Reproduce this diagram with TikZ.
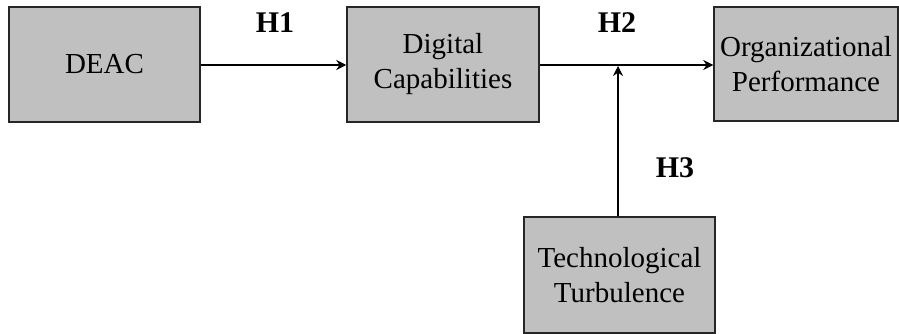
\documentclass[tikz,border=0pt]{standalone}
\usepackage{fontspec}
\setmainfont{Liberation Serif}
\usetikzlibrary{arrows.meta}
\definecolor{boxgray}{HTML}{C0C0C0}
\begin{document}
\begin{tikzpicture}[x=1pt,y=-1pt,
  box/.style={draw=black!85,line width=1.5pt,fill=boxgray,align=center,inner sep=0pt,
    font=\fontsize{29}{35}\selectfont},
  hlabel/.style={font=\fontsize{30}{36}\selectfont\bfseries},
  conn/.style={line width=1.5pt,-{Stealth[length=10pt,width=10pt]}}]
\useasboundingbox (0,0) rectangle (899,334);
\node[box,minimum width=191pt,minimum height=115pt] (deac) at (104.5,64.5) {DEAC};
\node[box,minimum width=192pt,minimum height=115pt] (dc) at (443,64.5) {Digital\\Capabilities};
\node[box,minimum width=184pt,minimum height=114pt] (op) at (806,64) {Organizational\\Performance};
\node[box,minimum width=191pt,minimum height=116pt] (tt) at (619.5,275) {Technological\\Turbulence};
\coordinate (mod) at (618,66);
\draw[conn] (deac.east |- 0,65) -- (dc.west |- 0,65);
\draw[conn] (dc.east |- 0,65) -- (op.west |- 0,65);
\draw[conn] (tt.north -| mod) -- (mod);
\node[hlabel] (h1) at (275,23) {H1};
\node[hlabel] (h2) at (617,23) {H2};
\node[hlabel] (h3) at (675,168) {H3};
\end{tikzpicture}
\end{document}
